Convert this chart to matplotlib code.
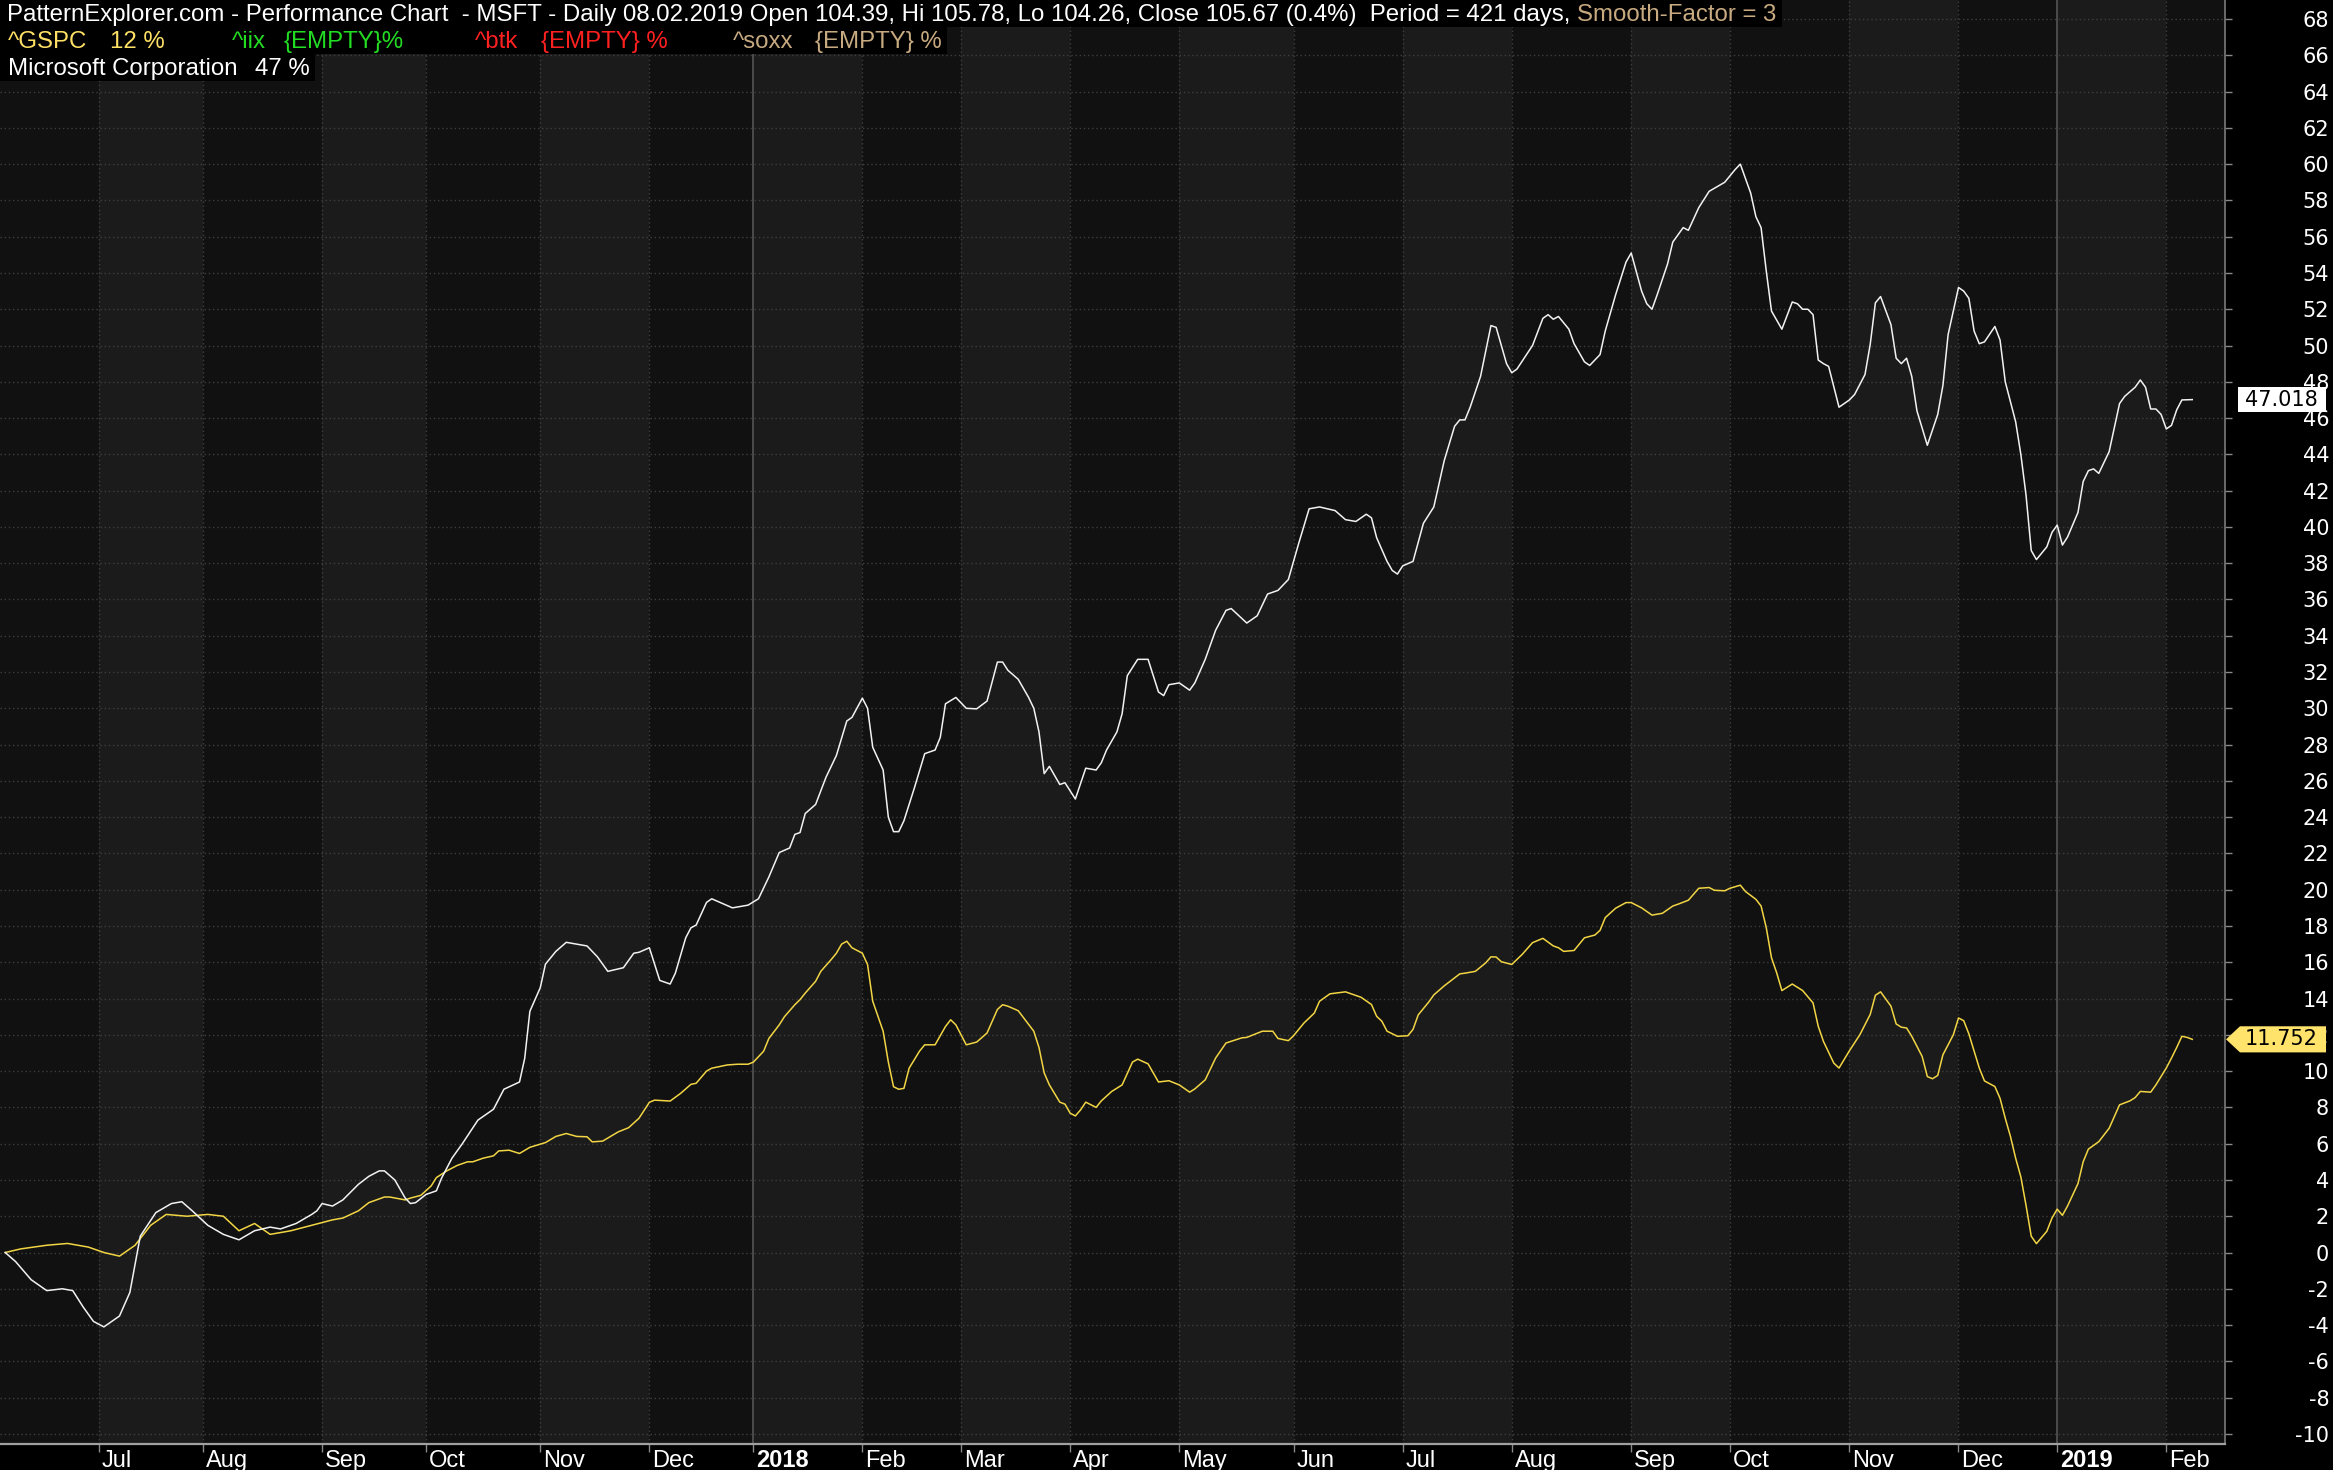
import matplotlib
matplotlib.use("Agg")
import matplotlib.pyplot as plt
from matplotlib.patches import Rectangle, Polygon
import pandas as pd

plt.rcParams["axes.unicode_minus"] = False

# trading calendar (NYSE sessions), day index 0 = 2017-06-06
nyse_holidays = ["2017-07-04", "2017-09-04", "2017-11-23", "2017-12-25",
                 "2018-01-01", "2018-01-15", "2018-02-19", "2018-03-30",
                 "2018-05-28", "2018-07-04", "2018-09-03", "2018-11-22",
                 "2018-12-05", "2018-12-25", "2019-01-01", "2019-01-21"]
sessions = pd.bdate_range("2017-06-06", "2019-02-08")
sessions = sessions[~sessions.isin(pd.to_datetime(nyse_holidays))]

# MSFT performance in %, by session index
msft_day = [1, 3, 6, 9, 12, 14, 16, 18, 20, 23, 25, 27, 30, 33, 35, 37, 40, 43, 46, 49,
            52, 54, 57, 60, 61, 62, 64, 66, 69, 71, 73, 74, 76, 78, 79, 80, 82, 84, 85, 87,
            89, 92, 95, 97, 100, 101, 102, 104, 105, 107, 109, 111, 113, 115, 117, 120, 122, 123, 125, 127,
            129, 130, 132, 133, 134, 136, 137, 141, 144, 146, 148, 150, 152, 153, 154, 155, 157, 159, 161, 163,
            164, 166, 167, 168, 170, 171, 172, 173, 174, 176, 178, 180, 181, 182, 184, 186, 188, 190, 192, 193,
            194, 196, 198, 199, 200, 201, 202, 204, 205, 207, 209, 211, 212, 213, 215, 216, 217, 219, 221, 223,
            224, 225, 227, 229, 230, 232, 234, 236, 237, 240, 242, 244, 246, 248, 250, 252, 254, 257, 259, 261,
            263, 264, 265, 267, 268, 269, 270, 272, 274, 276, 278, 280, 281, 282, 283, 285, 287, 288, 290, 291,
            292, 295, 297, 298, 299, 300, 302, 303, 305, 306, 308, 309, 311, 313, 314, 316, 317, 318, 319, 321,
            322, 324, 325, 327, 329, 332, 334, 335, 337, 338, 339, 340, 341, 342, 343, 345, 346, 347, 348, 349,
            350, 351, 352, 354, 356, 357, 359, 360, 361, 362, 364, 365, 366, 367, 368, 369, 371, 373, 374, 375,
            377, 378, 379, 380, 381, 382, 384, 385, 386, 387, 388, 389, 390, 391, 392, 394, 395, 396, 397, 398,
            400, 401, 402, 403, 404, 406, 408, 409, 411, 412, 413, 414, 415, 416, 417, 418, 419, 420, 422]
msft_pct = [0.0, -0.5, -1.5, -2.1, -2.0, -2.1, -3.0, -3.8, -4.1, -3.5, -2.2, 0.9, 2.2, 2.7, 2.8, 2.3, 1.5, 1.0, 0.7, 1.2,
            1.4, 1.3, 1.6, 2.1, 2.3, 2.7, 2.56, 2.9, 3.76, 4.2, 4.5, 4.5, 4.0, 3.0, 2.7, 2.75, 3.2, 3.4, 4.1, 5.2,
            6.0, 7.3, 7.9, 9.0, 9.4, 10.7, 13.3, 14.6, 15.9, 16.6, 17.1, 17.0, 16.9, 16.3, 15.5, 15.7, 16.5, 16.55, 16.8, 15.0,
            14.8, 15.4, 17.35, 17.9, 18.05, 19.3, 19.5, 19.0, 19.15, 19.5, 20.7, 22.05, 22.3, 23.05, 23.15, 24.2, 24.7, 26.2, 27.4, 29.3,
            29.5, 30.56, 30.0, 27.85, 26.6, 24.0, 23.2, 23.2, 23.8, 25.6, 27.5, 27.7, 28.4, 30.25, 30.6, 30.0, 29.97, 30.4, 32.55, 32.55,
            32.1, 31.6, 30.6, 30.0, 28.7, 26.4, 26.8, 25.8, 25.9, 25.0, 26.7, 26.6, 27.0, 27.7, 28.7, 29.7, 31.8, 32.7, 32.7, 30.9,
            30.7, 31.3, 31.4, 31.0, 31.4, 32.7, 34.3, 35.4, 35.5, 34.7, 35.1, 36.3, 36.5, 37.1, 39.1, 41.0, 41.1, 40.9, 40.4, 40.3,
            40.7, 40.5, 39.4, 38.1, 37.6, 37.4, 37.85, 38.1, 40.2, 41.1, 43.65, 45.55, 45.9, 45.9, 46.6, 48.3, 51.1, 51.0, 49.0, 48.5,
            48.7, 50.0, 51.5, 51.7, 51.45, 51.6, 50.9, 50.1, 49.1, 48.9, 49.5, 50.8, 52.8, 54.6, 55.1, 53.0, 52.3, 52.0, 52.8, 54.5,
            55.7, 56.5, 56.35, 57.6, 58.5, 59.0, 59.7, 60.0, 58.4, 57.1, 56.5, 54.1, 51.9, 51.4, 50.9, 52.4, 52.3, 52.0, 52.0, 51.7,
            49.2, 49.0, 48.85, 46.6, 47.0, 47.3, 48.4, 50.05, 52.35, 52.7, 51.15, 49.3, 49.0, 49.3, 48.3, 46.4, 44.5, 46.2, 47.8, 50.6,
            53.2, 53.0, 52.6, 50.8, 50.1, 50.2, 51.05, 50.3, 48.0, 46.9, 45.8, 44.0, 41.75, 38.7, 38.2, 38.9, 39.7, 40.1, 39.0, 39.45,
            40.8, 42.5, 43.1, 43.2, 42.95, 44.15, 46.8, 47.2, 47.7, 48.1, 47.7, 46.5, 46.5, 46.2, 45.4, 45.6, 46.45, 47.0, 47.018]

# ^GSPC performance in %, by session index
gspc_day = [1, 4, 9, 13, 17, 20, 23, 26, 29, 32, 36, 40, 43, 46, 49, 52, 56, 60, 64, 66,
            69, 71, 74, 75, 78, 79, 81, 83, 84, 86, 88, 90, 91, 93, 95, 96, 98, 100, 102, 105,
            107, 109, 111, 113, 114, 116, 119, 121, 123, 125, 126, 129, 131, 133, 134, 136, 137, 140, 142, 144,
            145, 147, 148, 150, 151, 153, 154, 155, 157, 158, 160, 161, 162, 163, 164, 166, 167, 168, 170, 171,
            172, 173, 174, 175, 177, 178, 180, 182, 183, 184, 186, 188, 190, 192, 193, 194, 196, 199, 200, 201,
            202, 204, 205, 206, 207, 208, 209, 211, 212, 214, 216, 218, 219, 221, 223, 225, 227, 229, 230, 232,
            234, 236, 239, 240, 243, 245, 246, 248, 249, 251, 253, 254, 256, 259, 262, 264, 265, 266, 267, 269,
            271, 272, 273, 275, 276, 278, 281, 282, 284, 286, 287, 288, 289, 291, 293, 295, 297, 299, 300, 301,
            303, 305, 307, 308, 309, 311, 313, 314, 316, 318, 320, 322, 323, 325, 327, 329, 330, 332, 333, 335,
            336, 338, 339, 340, 341, 342, 343, 345, 347, 349, 350, 351, 353, 354, 356, 358, 360, 361, 362, 364,
            365, 366, 367, 368, 370, 371, 372, 373, 374, 376, 377, 378, 379, 381, 382, 384, 385, 386, 387, 388,
            389, 390, 391, 392, 394, 395, 396, 397, 398, 400, 401, 402, 404, 406, 407, 408, 410, 411, 412, 414,
            415, 417, 418, 419, 420, 421, 422]
gspc_pct = [0.0, 0.2, 0.4, 0.5, 0.3, 0.0, -0.2, 0.4, 1.5, 2.1, 2.0, 2.1, 2.0, 1.2, 1.6, 1.0, 1.2, 1.5, 1.8, 1.9,
            2.3, 2.75, 3.06, 3.06, 2.9, 3.0, 3.15, 3.67, 4.13, 4.5, 4.8, 5.0, 5.0, 5.2, 5.33, 5.6, 5.64, 5.46, 5.8, 6.06,
            6.4, 6.56, 6.4, 6.38, 6.1, 6.14, 6.65, 6.88, 7.4, 8.28, 8.4, 8.35, 8.77, 9.27, 9.33, 10.0, 10.16, 10.34, 10.38, 10.38,
            10.49, 11.1, 11.8, 12.55, 13.0, 13.66, 13.94, 14.3, 14.95, 15.5, 16.15, 16.5, 17.0, 17.16, 16.8, 16.5, 15.87, 13.85, 12.2, 10.5,
            9.14, 9.0, 9.05, 10.16, 11.1, 11.45, 11.45, 12.46, 12.83, 12.55, 11.45, 11.6, 12.1, 13.4, 13.66, 13.58, 13.33, 12.2, 11.3, 9.9,
            9.24, 8.29, 8.18, 7.68, 7.53, 7.86, 8.29, 8.0, 8.36, 8.88, 9.24, 10.5, 10.66, 10.4, 9.4, 9.47, 9.24, 8.84, 9.02, 9.52,
            10.72, 11.55, 11.83, 11.86, 12.2, 12.2, 11.8, 11.68, 11.95, 12.65, 13.2, 13.85, 14.26, 14.37, 14.07, 13.67, 13.02, 12.75, 12.2, 11.92,
            11.95, 12.3, 13.1, 13.8, 14.2, 14.7, 15.36, 15.4, 15.5, 15.97, 16.3, 16.29, 16.03, 15.88, 16.43, 17.08, 17.32, 16.9, 16.8, 16.6,
            16.65, 17.35, 17.5, 17.76, 18.46, 18.98, 19.29, 19.29, 19.0, 18.6, 18.7, 19.1, 19.2, 19.42, 20.08, 20.12, 19.97, 19.94, 20.08, 20.25,
            19.9, 19.47, 19.1, 17.9, 16.25, 15.42, 14.44, 14.8, 14.44, 13.76, 12.47, 11.64, 10.44, 10.17, 11.12, 12.0, 13.12, 14.18, 14.37, 13.58,
            12.6, 12.42, 12.38, 11.92, 10.81, 9.7, 9.58, 9.76, 10.9, 12.0, 12.93, 12.78, 12.05, 10.17, 9.46, 9.15, 8.5, 7.4, 6.4, 5.2,
            4.17, 2.6, 0.9, 0.49, 1.17, 1.9, 2.39, 2.05, 2.57, 3.8, 5.0, 5.7, 6.11, 6.85, 7.5, 8.14, 8.36, 8.54, 8.88, 8.84,
            9.24, 10.17, 10.72, 11.3, 11.92, 11.86, 11.752]

y_ticks = list(range(-10, 69, 2))

W, H = 2333, 1470
fig = plt.figure(figsize=(W / 100, H / 100), dpi=100, facecolor="black")
ax = fig.add_axes([0, 26 / H, 2225 / W, 1444 / H])
ax.set_facecolor("#111111")
x_max = 428.3
ax.set_xlim(0, x_max)
ax.set_ylim(-10.556, 69.047)

month_first = [i for i in range(1, len(sessions)) if sessions[i].month != sessions[i - 1].month]

# alternating month bands
edges = [0] + month_first + [x_max]
for k in range(len(edges) - 1):
    if k % 2 == 1:
        ax.axvspan(edges[k], edges[k + 1], color="#1b1b1b", lw=0, zorder=0)

for v in y_ticks:
    ax.axhline(v, color="#3e3e3e", lw=1, ls=(0, (1, 2)), zorder=1)
for i in month_first:
    if sessions[i].month == 1:
        ax.axvline(i, color="#505050", lw=1.3, zorder=1)
    else:
        ax.axvline(i, color="#3e3e3e", lw=1, ls=(0, (1, 2)), zorder=1)

ax.plot(gspc_day, gspc_pct, color="#f2d544", lw=1.1, zorder=3)
ax.plot(msft_day, msft_pct, color="#f2f2f2", lw=1.1, zorder=4)

for side in ["top", "left"]:
    ax.spines[side].set_visible(False)
ax.spines["right"].set_color("#7a7a7a")
ax.spines["right"].set_linewidth(1.2)
ax.spines["bottom"].set_color("#a0a0a0")
ax.spines["bottom"].set_linewidth(1.6)

ax.yaxis.tick_right()
ax.set_yticks(y_ticks)
ax.tick_params(axis="y", colors="#888888", labelcolor="white", length=5, width=1,
               direction="out", pad=70, labelsize=15)
for lab in ax.get_yticklabels():
    lab.set_horizontalalignment("right")
    lab.set_fontfamily("DejaVu Sans")

ax.set_xticks(month_first)
ax.tick_params(axis="x", colors="#888888", length=6, width=1, direction="out", labelbottom=False)
for i in month_first:
    d = sessions[i]
    is_year = d.month == 1
    ax.annotate(str(d.year) if is_year else d.strftime("%b"), xy=(i, 0),
                xycoords=ax.get_xaxis_transform(), xytext=(3, -23), textcoords="offset pixels",
                ha="left", va="baseline", color="white", fontsize=17,
                fontweight="bold" if is_year else "normal", family="Liberation Sans",
                annotation_clip=False)

# last-value tags on the price scale
ytr = ax.get_yaxis_transform()
px = 1.0 / 2225
v = msft_pct[-1]
ax.add_patch(Rectangle((2238 * px, v - 0.69), 88 * px, 1.38, transform=ytr,
                       facecolor="white", edgecolor="none", clip_on=False, zorder=6))
ax.text(2318 * px, v, f"{v:.3f}", transform=ytr, ha="right", va="center", color="black",
        fontsize=15, family="DejaVu Sans", zorder=7, clip_on=False)
v = gspc_pct[-1]
ax.add_patch(Polygon([(2226 * px, v), (2240 * px, v + 0.72), (2326 * px, v + 0.72),
                      (2326 * px, v - 0.72), (2240 * px, v - 0.72)], closed=True, transform=ytr,
                     facecolor="#ffe36a", edgecolor="none", clip_on=False, zorder=6))
ax.text(2318 * px, v, f"{v:.3f}", transform=ytr, ha="right", va="center", color="black",
        fontsize=15, family="DejaVu Sans", zorder=7, clip_on=False)

# header legend
def htext(x, y, s, color):
    return fig.text(x / W, 1 - y / H, s, color=color, fontsize=17.3, family="Liberation Sans",
                    ha="left", va="baseline", zorder=5)

row1 = [htext(7, 21, "PatternExplorer.com - Performance Chart  - MSFT - Daily 08.02.2019 Open 104.39, "
                     "Hi 105.78, Lo 104.26, Close 105.67 (0.4%)  Period = 421 days,", "white")]
row2 = [htext(8, 48, "^GSPC", "#ffe066"), htext(110, 48, f"{round(gspc_pct[-1])} %", "#ffe066"),
        htext(232, 48, "^iix", "#22dd22"), htext(284, 48, "{EMPTY}%", "#22dd22"),
        htext(475, 48, "^btk", "#ff2020"), htext(541, 48, "{EMPTY} %", "#ff2020"),
        htext(733, 48, "^soxx", "#c8aa80"), htext(815, 48, "{EMPTY} %", "#c8aa80")]
row3 = [htext(8, 75, "Microsoft Corporation", "white"), htext(255, 75, f"{round(msft_pct[-1])} %", "white")]

fig.canvas.draw()
renderer = fig.canvas.get_renderer()
x1 = row1[0].get_window_extent(renderer).x1
row1.append(htext(x1 + 7, 21, "Smooth-Factor = 3", "#c8aa80"))
fig.canvas.draw()

for texts, top, bottom in [(row1, 0, 27), (row2, 27, 54), (row3, 54, 81)]:
    right = max(t.get_window_extent(renderer).x1 for t in texts) + 5
    fig.add_artist(Rectangle((0, 1 - bottom / H), right / W, (bottom - top) / H,
                             transform=fig.transFigure, facecolor="black", edgecolor="none", zorder=2))

fig.savefig("out.png", dpi=100, facecolor="black")
